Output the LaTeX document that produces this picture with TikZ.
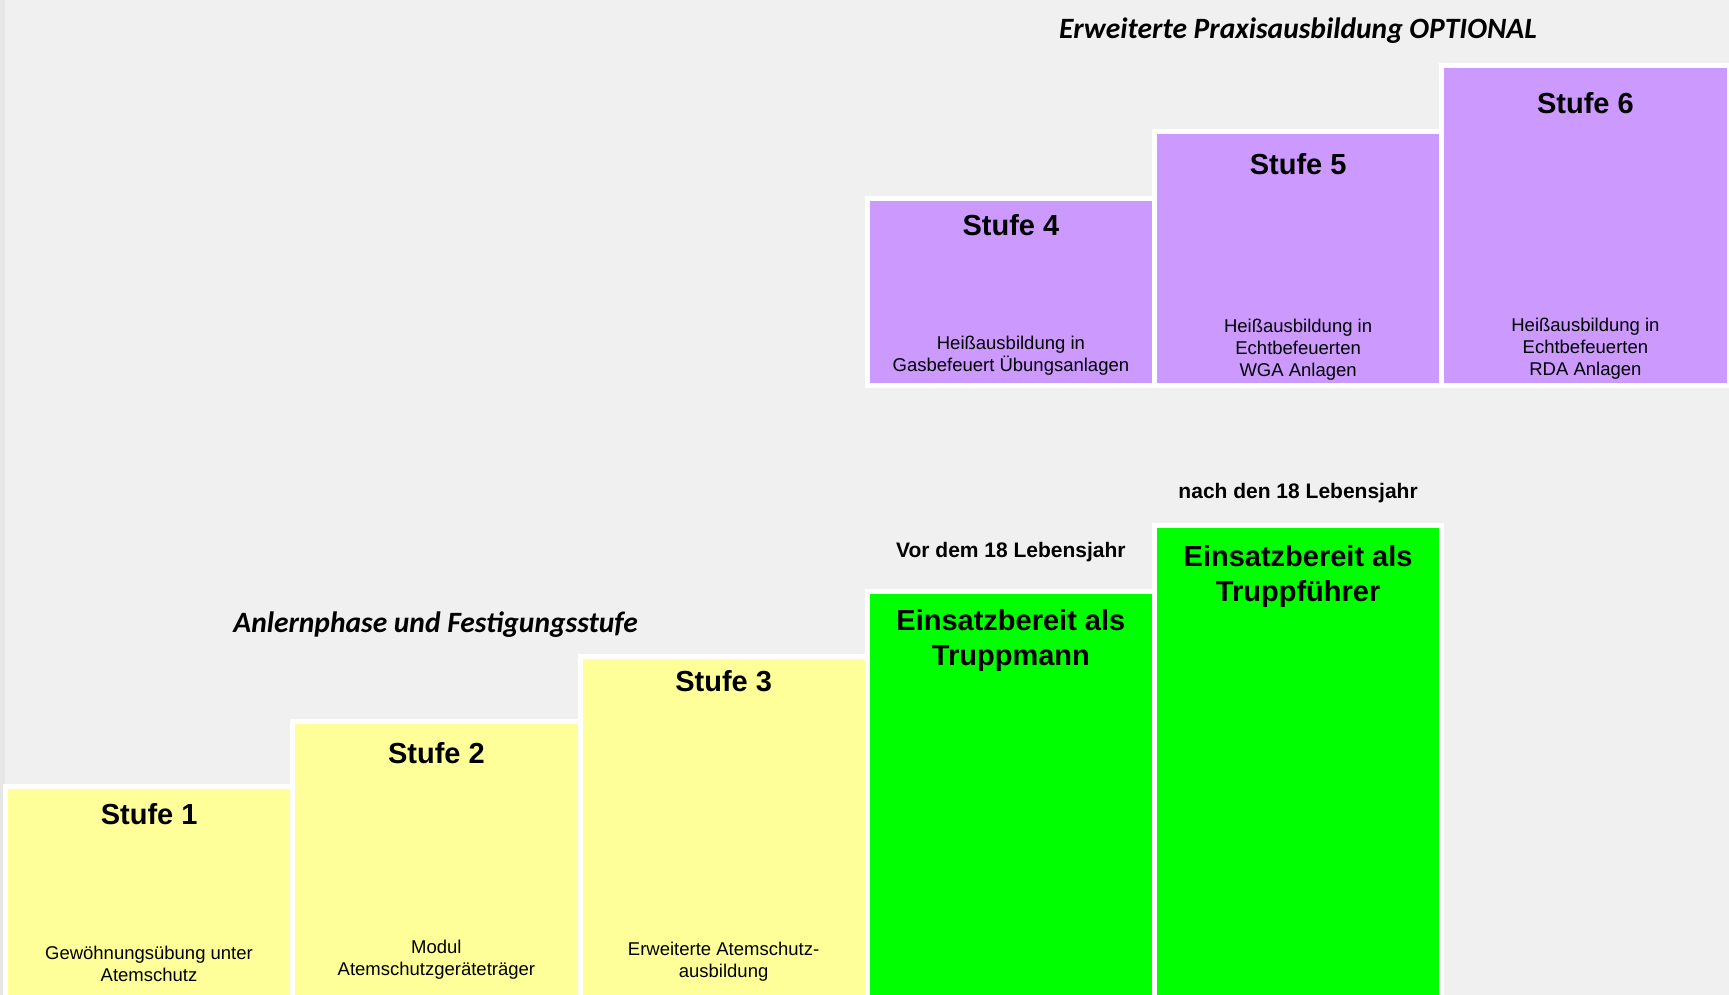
\documentclass[tikz,border=0pt]{standalone}
\usepackage{fontspec}
\setmainfont{Liberation Sans}
\newfontfamily\calfont{Carlito}
\usetikzlibrary{calc}
\definecolor{bg}{HTML}{F0F0F0}
\definecolor{strip}{HTML}{E6E6E6}
\definecolor{stufegelb}{HTML}{FFFF99}
\definecolor{stufelila}{HTML}{CC99FF}
\definecolor{stufegruen}{HTML}{00FF00}
\tikzset{
  blk/.style={draw=white, line width=5pt, inner sep=0pt, outer sep=0pt, anchor=north west, minimum width=287.25pt},
  gelb/.style={blk, fill=stufegelb},
  lila/.style={blk, fill=stufelila},
  gruen/.style={blk, fill=stufegruen},
  ttl/.style={inner sep=0pt, font=\fontsize{29}{35}\selectfont\bfseries, align=center},
  dsc/.style={inner sep=0pt, font=\fontsize{18.5}{22}\selectfont, align=center},
  age/.style={inner sep=0pt, font=\fontsize{21}{25}\selectfont\bfseries},
  phase/.style={inner sep=0pt, font=\calfont\fontsize{29.5}{34}\selectfont\bfseries\itshape},
}
\begin{document}
\begin{tikzpicture}[x=1pt,y=-1pt]
\clip (0,0) rectangle (1729,995);
\fill[bg] (0,0) rectangle (1729,995);
\fill[strip] (0,0) rectangle (5,995);

% lower boxes
\node[gelb, minimum height=223.5pt] (s1) at (5.5,786.5) {};
\node[gelb, minimum height=288.5pt] (s2) at (292.75,721.5) {};
\node[gelb, minimum height=353.5pt] (s3) at (580,656.5) {};
\node[gruen, minimum height=418.5pt] (tm) at (867.25,591.5) {};
\node[gruen, minimum height=484.8pt] (tf) at (1154.5,525.2) {};
% upper boxes
\node[lila, minimum height=186.7pt] (s4) at (867.25,198.8) {};
\node[lila, minimum height=254pt] (s5) at (1154.5,131.5) {};
\node[lila, minimum height=320.1pt] (s6) at (1441.75,65.4) {};

% titles
\node[ttl] at ($(s1.north)+(0,27.5)$) {Stufe 1};
\node[ttl] at ($(s2.north)+(0,32)$) {Stufe 2};
\node[ttl] at ($(s3.north)+(0,25)$) {Stufe 3};
\node[ttl] at ($(s4.north)+(0,26)$) {Stufe 4};
\node[ttl] at ($(s5.north)+(0,32.5)$) {Stufe 5};
\node[ttl] at ($(s6.north)+(0,37.5)$) {Stufe 6};
\node[ttl] at ($(tm.north)+(0,49)$) {Einsatzbereit als\\Truppmann};
\node[ttl] at ($(tf.north)+(0,51.5)$) {Einsatzbereit als\\Truppführer};

% descriptions
\node[dsc] at (149,964) {Gewöhnungsübung unter\\Atemschutz};
\node[dsc] at (436.4,959.5) {Modul\\Atemschutzgeräteträger};
\node[dsc] at (723.6,962) {Erweiterte Atemschutz-\\ausbildung};
\node[dsc] at (1010.9,356) {Heißausbildung in\\Gasbefeuert Übungsanlagen};
\node[dsc] at (1298.1,350) {Heißausbildung in\\Echtbefeuerten\\WGA Anlagen};
\node[dsc] at (1585.4,349) {Heißausbildung in\\Echtbefeuerten\\RDA Anlagen};

% age labels
\node[age] (vor) at (1010.9,552.5) {Vor dem 18 Lebensjahr};
\node[age] (nach) at (1298.1,493.5) {nach den 18 Lebensjahr};

% phase labels
\node[phase] (opt) at (1298,30.5) {Erweiterte Praxisausbildung OPTIONAL};
\node[phase] (anl) at (435.6,625) {Anlernphase und Festigungsstufe};
\end{tikzpicture}
\end{document}
